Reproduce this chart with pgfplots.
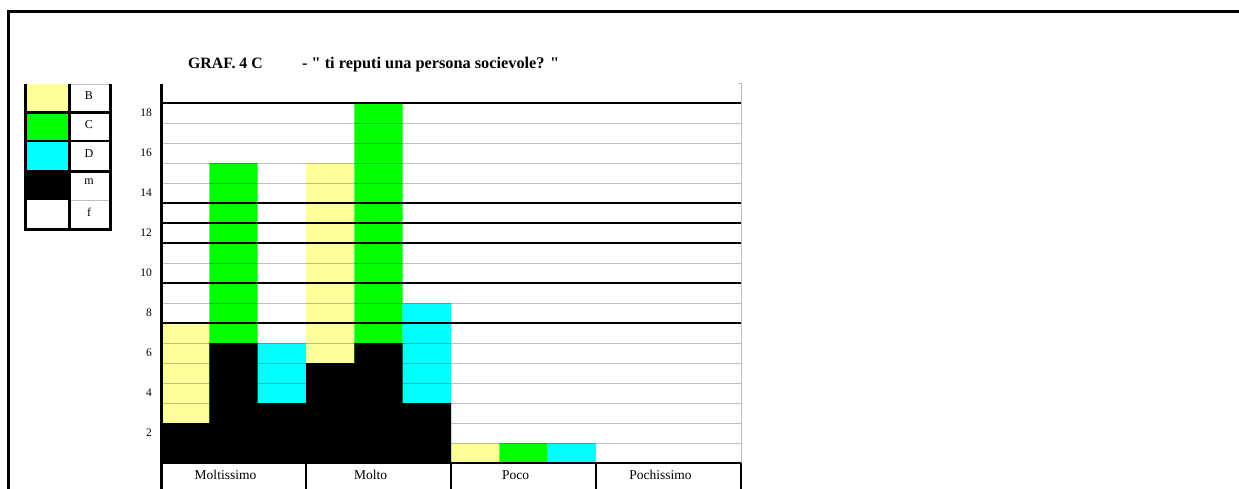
\documentclass[border=0pt]{standalone}
\usepackage{fontspec}
\setmainfont{Liberation Serif}
\usepackage{pgfplots}
\pgfplotsset{compat=1.18}

\definecolor{paleyellow}{HTML}{FFFF99}
\definecolor{brightgreen}{HTML}{00FF00}
\definecolor{aqua}{HTML}{00FFFF}
\definecolor{gridgray}{HTML}{C0C0C0}

\begin{document}
\begin{tikzpicture}[x=1pt,y=1pt]
\path[use as bounding box] (0,0) rectangle (1239,488);

\begin{axis}[
  at={(161pt,25pt)}, anchor=south west,
  scale only axis, width=580pt, height=379pt,
  xmin=0, xmax=12, ymin=0, ymax=18.95,
  axis line style={draw=none},
  xtick={1.5,4.5,7.5,10.5},
  xticklabels={Moltissimo,Molto,Poco,Pochissimo},
  xticklabel style={font=\fontsize{13.5}{15}\selectfont, anchor=center, yshift=-12pt, xshift=-8pt},
  ytick={1.5,3.5,5.5,7.5,9.5,11.5,13.5,15.5,17.5},
  yticklabels={2,4,6,8,10,12,14,16,18},
  yticklabel style={font=\fontsize{11.5}{13}\selectfont, anchor=east, inner sep=0pt, xshift=-9pt},
  minor ytick={1,2,...,17},
  yminorgrids=true,
  minor grid style={gridgray, line width=0.9pt, blend mode=multiply},
  major tick length=0pt, minor tick length=0pt,
  clip=false, axis on top,
]
% class totals (B, C, D columns of each answer)
\addplot[ybar, bar width=1, bar shift=0pt, fill=paleyellow, draw=none]
  coordinates {(0.5,7) (3.5,15) (6.5,1) (9.5,0)};
\addplot[ybar, bar width=1, bar shift=0pt, fill=brightgreen, draw=none]
  coordinates {(1.5,15) (4.5,18) (7.5,1) (10.5,0)};
\addplot[ybar, bar width=1, bar shift=0pt, fill=aqua, draw=none]
  coordinates {(2.5,6) (5.5,8) (8.5,1) (11.5,0)};
% male share at the foot of each column
\addplot[ybar, bar width=1, bar shift=0pt, fill=black, draw=none]
  coordinates {(0.5,2) (1.5,6) (2.5,3) (3.5,5) (4.5,6) (5.5,3)
               (6.5,0) (7.5,0) (8.5,0) (9.5,0) (10.5,0) (11.5,0)};

% heavy rules across the plot
\pgfplotsinvokeforeach{0,7,9,11,12,13,18}{
  \draw[line width=2.6pt] (axis cs:0,#1) -- (axis cs:12,#1);
}
% right border with its small tick
\draw[gridgray, line width=1pt] (axis cs:12,0) -- (axis cs:12,18.95) -- ++(-3pt,0);
% left axis, running down through the category row
\draw[line width=3pt] (axis cs:0,18.95) -- (axis cs:0,-1.3);
% category row separators
\pgfplotsinvokeforeach{3,6,9,12}{
  \draw[line width=2.6pt] (axis cs:#1,0) -- (axis cs:#1,-1.3);
}
\end{axis}

\begin{scope}[shift={(0,488)}, yscale=-1]
  % outer frame
  \draw[line width=3pt] (8,490) -- (8,12) -- (1239,12);

  % title
  \node[anchor=base west, inner sep=0pt, font=\fontsize{15.8}{18}\selectfont\bfseries] at (188,69) {GRAF. 4 C};
  \node[anchor=base west, inner sep=0pt, font=\fontsize{16.3}{18}\selectfont\bfseries] at (302,69)
    {- \textquotedbl{} ti reputi una persona socievole? \textquotedbl};

  % key
  \fill[paleyellow]  (27,84)    rectangle (69,112.5);
  \fill[brightgreen] (27,112.5) rectangle (69,141);
  \fill[aqua]        (27,141)   rectangle (69,171.5);
  \fill[black]       (27,171.5) rectangle (69,200);
  \draw[gridgray, line width=0.9pt] (69,84) -- (110.5,84);
  \draw[gridgray, line width=0.9pt] (69,200) -- (110.5,200);
  \foreach \yy in {112.5,141,171.5}
    \draw[line width=2.6pt] (25.5,\yy) -- (110.5,\yy);
  \draw[line width=3pt] (24,229) -- (112,229);
  \foreach \xx in {25.5,69.5,110.5}
    \draw[line width=2.8pt] (\xx,84) -- (\xx,230.5);
  \begin{scope}[every node/.style={font=\fontsize{12}{13}\selectfont}]
    \node at (89,96)  {B};
    \node at (89,125) {C};
    \node at (89,154) {D};
    \node at (89,182) {m};
    \node at (89,212) {f};
  \end{scope}
\end{scope}
\end{tikzpicture}
\end{document}
